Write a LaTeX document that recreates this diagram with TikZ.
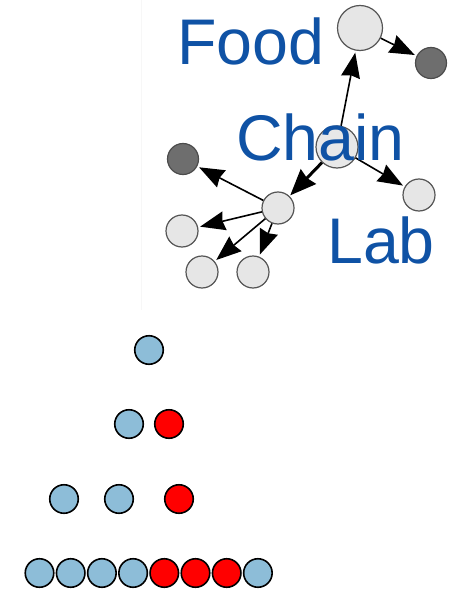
\documentclass[tikz,border=0pt]{standalone}
\usepackage{fontspec}
\setmainfont{Liberation Sans}
\usetikzlibrary{arrows.meta}
\definecolor{logoblue}{HTML}{0F52A5}
\definecolor{lightnode}{HTML}{E6E6E6}
\definecolor{darknode}{HTML}{6E6E6E}
\definecolor{nodeedge}{HTML}{555555}
\definecolor{ballblue}{HTML}{8DBDD8}
\tikzset{
  lnode/.style={circle, draw=nodeedge, line width=1.2pt, fill=lightnode, inner sep=0pt, minimum size=#1},
  dnode/.style={circle, draw=black!70, line width=1.2pt, fill=darknode, inner sep=0pt, minimum size=#1},
  arr/.style={line width=1.6pt, black, shorten >=2pt, -{Stealth[length=25pt,width=19pt,inset=2pt]}},
  thickarr/.style={line width=3pt, black, shorten >=1pt, -{Stealth[length=26pt,width=21pt,inset=2pt]}},
  logotext/.style={text=logoblue, font=\fontsize{64.5}{64.5}\selectfont, inner sep=0pt, anchor=base west},
  ball/.style={circle, draw=black, line width=1.6pt, inner sep=0pt, minimum size=28.5pt, fill=#1},
}
\begin{document}
\begin{tikzpicture}[x=1pt,y=-1pt]
\useasboundingbox (0,0) rectangle (459,591);
\fill[white] (0,0) rectangle (459,591);
\draw[gray!6, line width=0.8pt] (141,0) -- (141,310);
% logo nodes
\node[lnode=45pt] (top) at (360,28) {};
\node[dnode=31pt] (tr) at (431,63) {};
\node[lnode=42pt, fill opacity=0.9] (ctr) at (337,147) {};
\node[dnode=31pt] (dl) at (183,159) {};
\node[lnode=32pt] (mid) at (278,208) {};
\node[lnode=32pt] (rl) at (419,195) {};
\node[lnode=32pt] (ll) at (182,231) {};
\node[lnode=32pt] (bl) at (202,272) {};
\node[lnode=32pt] (bm) at (253,272) {};
% connectors
\draw[arr] (ctr) -- (top);
\draw[arr] (top) -- (tr);
\draw[arr] (ctr) -- (rl);
\draw[thickarr] (ctr) -- (mid);
\draw[arr] (mid) -- (dl);
\draw[arr] (mid) -- (ll);
\draw[arr] (mid) -- (bl);
\draw[arr] (mid) -- (bm);
% texts
\node[logotext] (food) at (177,65) {Food};
\node[logotext] (chain) at (236,160) {Chain};
\node[logotext] (lab) at (327,263) {Lab};
% balls
\node[ball=ballblue] (a1) at (149,350) {};
\node[ball=ballblue] (b1) at (129,424) {};
\node[ball=red] (b2) at (169,424) {};
\node[ball=ballblue] (c1) at (64,499) {};
\node[ball=ballblue] (c2) at (119,499) {};
\node[ball=red] (c3) at (179,499) {};
\node[ball=ballblue] (d1) at (39.5,573) {};
\node[ball=ballblue] (d2) at (70.7,573) {};
\node[ball=ballblue] (d3) at (101.9,573) {};
\node[ball=ballblue] (d4) at (133.1,573) {};
\node[ball=red] (d5) at (164.3,573) {};
\node[ball=red] (d6) at (195.5,573) {};
\node[ball=red] (d7) at (226.7,573) {};
\node[ball=ballblue] (d8) at (257.9,573) {};
\end{tikzpicture}
\end{document}
